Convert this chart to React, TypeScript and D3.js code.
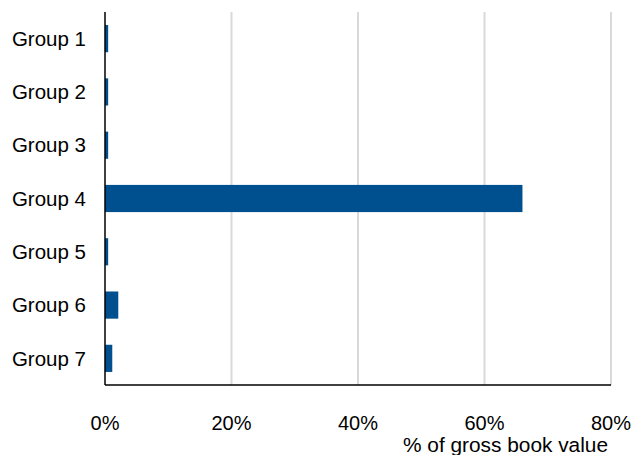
import React from "react";
import * as d3 from "d3";

const categories = ["Group 1", "Group 2", "Group 3", "Group 4", "Group 5", "Group 6", "Group 7"];
const values = [0.5, 0.5, 0.5, 66.0, 0.5, 2.1, 1.15];
const xTicks = [0, 20, 40, 60, 80];
const xTitle = "% of gross book value";

const W = 636;
const H = 455;
const M = { left: 105, right: 25, top: 12, bottom: 70 };

export default function App() {
  const x = d3.scaleLinear().domain([0, 80]).range([M.left, W - M.right]);
  const y = d3
    .scaleBand<string>()
    .domain(categories)
    .range([M.top, H - M.bottom])
    .paddingInner(0.49)
    .paddingOuter(0.245);
  const font = "Arial, 'Liberation Sans', sans-serif";
  return (
    <svg
      width={W}
      height={H}
      style={{ position: "absolute", left: 0, top: 0, background: "#fff" }}
      fontFamily={font}
    >
      {xTicks.slice(1).map((t) => (
        <line key={t} x1={x(t)} x2={x(t)} y1={M.top} y2={H - M.bottom} stroke="#d9d9d9" strokeWidth={2} />
      ))}
      {categories.map((c, i) => (
        <rect
          key={c}
          x={x(0)}
          y={y(c)}
          width={x(values[i]) - x(0)}
          height={y.bandwidth()}
          fill="#00508f"
        />
      ))}
      <line x1={x(0)} x2={x(0)} y1={M.top} y2={H - M.bottom} stroke="#000" strokeWidth={1.5} />
      <line x1={x(0)} x2={x(80)} y1={H - M.bottom} y2={H - M.bottom} stroke="#000" strokeWidth={1.5} />
      {categories.map((c) => (
        <text
          key={c}
          x={86}
          y={(y(c) as number) + y.bandwidth() / 2}
          dy="0.35em"
          textAnchor="end"
          fontSize={20.5}
          fill="#000"
        >
          {c}
        </text>
      ))}
      {xTicks.map((t) => (
        <text key={t} x={x(t)} y={430} textAnchor="middle" fontSize={20} fill="#000">
          {t + "%"}
        </text>
      ))}
      <text x={608} y={452} textAnchor="end" fontSize={20.5} fill="#000" textLength={205} lengthAdjust="spacingAndGlyphs">
        {xTitle}
      </text>
    </svg>
  );
}
